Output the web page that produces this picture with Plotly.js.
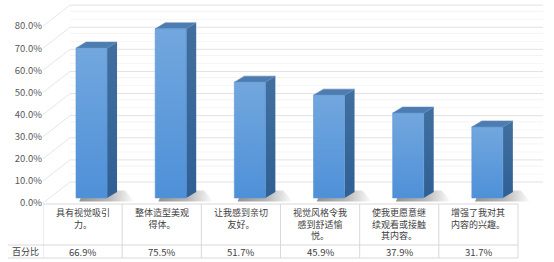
<!DOCTYPE html>
<html><head><meta charset="utf-8">
<script src="https://cdn.plot.ly/plotly-3.0.1.min.js"></script>
<style>html,body{margin:0;padding:0;background:#fff}#chart{width:554px;height:262px}</style>
</head><body><div id="chart"></div>
<script>
// ---- data ----
const categories = ['具有视觉吸引<br>力。','整体造型美观<br>得体。','让我感到亲切<br>友好。','视觉风格令我<br>感到舒适愉<br>悦。','使我更愿意继<br>续观看或接触<br>其内容。','增强了我对其<br>内容的兴趣。'];
const values = [66.9, 75.5, 51.7, 45.9, 37.9, 31.7];
const valueLabels = ['66.9%','75.5%','51.7%','45.9%','37.9%','31.7%'];
const rowHeader = '百分比';
const yTickVals = [0,10,20,30,40,50,60,70,80];
const yTickText = ['0.0%','10.0%','20.0%','30.0%','40.0%','50.0%','60.0%','70.0%','80.0%'];

// ---- geometry helpers (pixel layout of the 3D look) ----
const W = 554, H = 262, L = 43, R = 11, T = 4, B = 59;
const plotH = H - T - B;              // 199
const pxPerUnitX = (W - L - R) / 6.316;
const backShift = 9.5;                // back wall offset in label-axis units
const wallDX = 27 / pxPerUnitX;       // left wall depth in x units
const py2paper = py => (H - B - py) / plotH;
const px2paper = px => (px - L) / (W - L - R);

const barOff = -0.083, barW = 0.392;
const sideDX = 10 / pxPerUnitX, sideDY = 2.7;

const traces = [];
// soft shadows on the floor
values.forEach((v, i) => {
  const x0 = i + barOff, x1 = x0 + barW;
  traces.push({type:'scatter', mode:'lines', xaxis:'x', yaxis:'y2', hoverinfo:'skip', showlegend:false,
    x:[x0+0.04, x1+sideDX+0.22, x1+sideDX+0.1, x0+0.1, x0+0.04],
    y:[-1.6, -1.6, sideDY+0.6, sideDY+0.6, -1.6],
    fill:'toself', line:{width:0},
    fillgradient:{type:'horizontal', colorscale:[[0,'rgba(60,60,60,0.55)'],[0.55,'rgba(60,60,60,0.35)'],[1,'rgba(60,60,60,0)']]}});
});
values.forEach((v, i) => {
  const x0 = i + barOff, x1 = x0 + barW;
  // side face
  traces.push({type:'scatter', mode:'lines', xaxis:'x', yaxis:'y2', hoverinfo:'skip', showlegend:false,
    x:[x1, x1, x1+sideDX, x1+sideDX, x1], y:[0, v, v+sideDY, sideDY, 0],
    fill:'toself', line:{width:0},
    fillgradient:{type:'vertical', colorscale:[[0,'#2f5f94'],[1,'#416f9f']]}});
  // top face
  traces.push({type:'scatter', mode:'lines', xaxis:'x', yaxis:'y2', hoverinfo:'skip', showlegend:false,
    x:[x0, x0+sideDX, x1+sideDX, x1, x0], y:[v, v+sideDY, v+sideDY, v, v],
    fill:'toself', fillcolor:'#4d7cb0', line:{width:0.6, color:'#5a88bb'}});
  // front face
  traces.push({type:'scatter', mode:'lines', xaxis:'x', yaxis:'y2', hoverinfo:'skip', showlegend:false,
    x:[x0, x0, x1, x1, x0], y:[0, v, v, 0, 0],
    fill:'toself', line:{width:0.6, color:'#5d95d2'},
    fillgradient:{type:'vertical', colorscale:[[0,'#4e90d8'],[1,'#72a7de']]}});
});

// ---- shapes: back wall grid, left wall, table ----
const shapes = [];
yTickVals.forEach(v => {
  shapes.push({type:'line', layer:'below', xref:'x', yref:'y', x0:-0.5+wallDX, x1:5.816, y0:v+backShift, y1:v+backShift, line:{color:'#e2e2e2', width:1}});
  if (v < 80) {
    shapes.push({type:'line', layer:'below', xref:'x', yref:'y', x0:-0.5+wallDX, x1:5.816, y0:v+backShift+7.2, y1:v+backShift+7.2, line:{color:'#f3f3f3', width:1}});
    shapes.push({type:'line', layer:'below', xref:'x', yref:'y', x0:-0.5+wallDX, x1:5.816, y0:v+backShift+3.6, y1:v+backShift+3.6, line:{color:'#f5f5f5', width:1}});
  }
  shapes.push({type:'line', layer:'below', xref:'x', yref:'y', x0:-0.5, x1:-0.5+wallDX, y0:v, y1:v+backShift, line:{color:'#e6e6e6', width:1}});
});
// table lines
shapes.push({type:'line', xref:'paper', yref:'paper', x0:px2paper(43), x1:px2paper(518), y0:py2paper(204), y1:py2paper(204), line:{color:'#d9d9d9', width:1}});
for (let k = 0; k <= categories.length; k++) {
  shapes.push({type:'line', xref:'x', yref:'paper', x0:k-0.5, x1:k-0.5, y0:py2paper(204), y1:py2paper(258), line:{color:'#d9d9d9', width:1}});
}
shapes.push({type:'line', xref:'paper', yref:'paper', x0:px2paper(8), x1:px2paper(518), y0:py2paper(245), y1:py2paper(245), line:{color:'#d9d9d9', width:1}});
shapes.push({type:'line', xref:'paper', yref:'paper', x0:px2paper(8), x1:px2paper(518), y0:py2paper(258), y1:py2paper(258), line:{color:'#d9d9d9', width:1}});

// ---- annotations: table text ----
const font = {family:'"Noto Sans CJK SC", "Noto Sans", sans-serif', size:9, color:'#404040'};
const annotations = [];
categories.forEach((c, i) => {
  annotations.push({xref:'x', yref:'paper', x:i, y:py2paper(205), yanchor:'top', xanchor:'center', text:c, showarrow:false, font:font, borderpad:0});
  annotations.push({xref:'x', yref:'paper', x:i, y:py2paper(251.5), yanchor:'middle', xanchor:'center', text:valueLabels[i], showarrow:false, font:Object.assign({}, font, {size:9.5}), borderpad:0});
});
annotations.push({xref:'paper', yref:'paper', x:px2paper(25), y:py2paper(251.5), yanchor:'middle', xanchor:'center', text:rowHeader, showarrow:false, font:font, borderpad:0});

const layout = {
  width: W, height: H,
  margin: {l:L, r:R, t:T, b:B, pad:0},
  paper_bgcolor:'#ffffff', plot_bgcolor:'rgba(0,0,0,0)',
  showlegend:false,
  xaxis: {range:[-0.5, 5.816], showgrid:false, zeroline:false, showticklabels:false, showline:false, fixedrange:true},
  yaxis: {range:[0, 90], tickvals:yTickVals, ticktext:yTickText, showgrid:false, zeroline:false, showline:false, ticks:'',
          tickfont:{family:'"Noto Sans CJK SC", "Noto Sans", sans-serif', size:9.5, color:'#595959'}, fixedrange:true},
  yaxis2: {range:[-2.23, 86.6], overlaying:'y', visible:false, fixedrange:true},
  shapes: shapes,
  annotations: annotations
};
traces.unshift({type:'scatter', x:[0], y:[0], xaxis:'x', yaxis:'y', mode:'markers', marker:{opacity:0}, hoverinfo:'skip', showlegend:false});
Plotly.newPlot('chart', traces, layout, {displayModeBar:false, staticPlot:true});
</script></body></html>
